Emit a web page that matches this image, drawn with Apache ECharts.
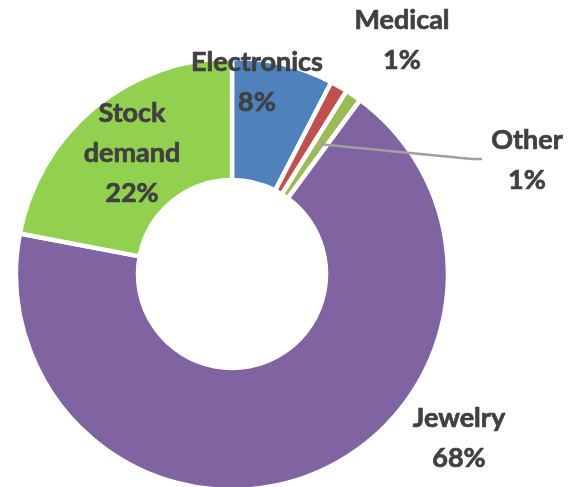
<!DOCTYPE html>
<html>
<head>
<meta charset="utf-8">
<script src="https://cdn.jsdelivr.net/npm/echarts@6/dist/echarts.min.js"></script>
<style>html,body{margin:0;padding:0;background:#fff}#c{width:580px;height:487px}</style>
</head>
<body>
<div id="c"></div>
<script>
const categories = ['Electronics', 'Medical', 'Other', 'Jewelry', 'Stock demand'];
const values = [7.6, 1.3, 1.2, 67.9, 22.0];
const colors = ['#4F81BD', '#C0504D', '#9BBB59', '#8064A2', '#92D050'];

const CX = 232, CY = 274, R_IN = 94, R_OUT = 216;
// label anchor (centre of text block) for each category
const labelPos = [[257, 82], [402, 40], [527, 160], [459, 438], [132, 153]];
const leaderName = 'Other';

const total = values.reduce((a, b) => a + b, 0);
function midAngle(i) {
  let c = 0;
  for (let k = 0; k < i; k++) c += values[k];
  return ((c + values[i] / 2) / total) * Math.PI * 2;
}

const labelStyle = {
  position: 'outside',
  fontFamily: 'Lato',
  fontWeight: 'bold',
  fontSize: 27,
  lineHeight: 40,
  color: '#404040',
  textBorderColor: '#404040',
  textBorderWidth: 0.7,
  align: 'center',
  formatter: p => p.name.replace(' ', '\n') + '\n' + p.percent + '%'
};

function layout(p) {
  const i = p.dataIndex;
  const res = {x: labelPos[i][0], y: labelPos[i][1], align: 'center', verticalAlign: 'middle'};
  if (categories[i] === leaderName) {
    const a = midAngle(i), r = 157;
    const sx = CX + r * Math.sin(a), sy = CY - r * Math.cos(a);
    res.labelLinePoints = [[sx, sy], [472, 159], [482, 159]];
  }
  return res;
}

const chart = echarts.init(document.getElementById('c'), null, {renderer: 'canvas'});
chart.setOption({
  animation: false,
  backgroundColor: '#fff',
  series: [{
    type: 'pie',
    z: 2,
    center: [CX, CY],
    radius: [R_IN, R_OUT],
    startAngle: 90,
    clockwise: true,
    percentPrecision: 0,
    avoidLabelOverlap: false,
    itemStyle: {borderColor: '#fff', borderWidth: 4.5},
    label: Object.assign({show: true}, labelStyle),
    labelLine: {show: false},
    emphasis: {disabled: true},
    data: categories.map((n, i) => ({
      name: n,
      value: values[i],
      itemStyle: {color: colors[i]},
      label: {show: n !== leaderName}
    })),
    labelLayout: layout
  }, {
    // overlay series carrying only the leader-lined label, drawn above the ring
    type: 'pie',
    z: 5,
    silent: true,
    center: [CX, CY],
    radius: [R_IN, R_OUT],
    startAngle: 90,
    clockwise: true,
    percentPrecision: 0,
    avoidLabelOverlap: false,
    itemStyle: {color: 'rgba(0,0,0,0)', borderWidth: 0},
    label: Object.assign({show: false}, labelStyle),
    labelLine: {show: false},
    emphasis: {disabled: true},
    data: categories.map((n, i) => ({
      name: n,
      value: values[i],
      label: {show: n === leaderName},
      labelLine: n === leaderName
        ? {show: true, lineStyle: {color: '#A0A0A0', width: 2.5}}
        : {show: false}
    })),
    labelLayout: layout
  }]
});
</script>
</body>
</html>
